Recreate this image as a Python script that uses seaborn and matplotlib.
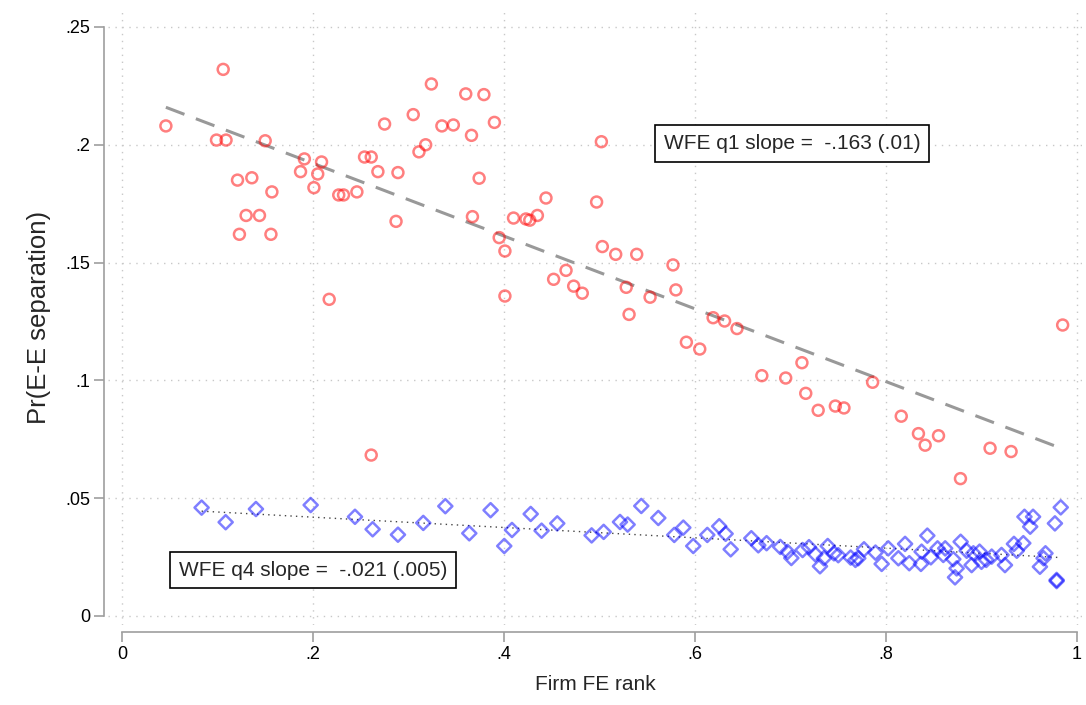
import numpy as np
import pandas as pd
import matplotlib
matplotlib.use("Agg")
import matplotlib.pyplot as plt
import seaborn as sns

# --- values ---
q1_rank = [0.046, 0.099, 0.106, 0.109, 0.121, 0.123, 0.130, 0.136, 0.144, 0.150,
           0.156, 0.157, 0.187, 0.191, 0.201, 0.205, 0.209, 0.217, 0.227, 0.232,
           0.246, 0.254, 0.261, 0.261, 0.268, 0.275, 0.287, 0.289, 0.305, 0.311,
           0.318, 0.324, 0.335, 0.347, 0.360, 0.366, 0.367, 0.374, 0.379, 0.390,
           0.395, 0.401, 0.401, 0.410, 0.423, 0.427, 0.435, 0.444, 0.452, 0.465,
           0.473, 0.482, 0.497, 0.502, 0.503, 0.517, 0.528, 0.531, 0.539, 0.553,
           0.577, 0.580, 0.591, 0.605, 0.619, 0.631, 0.644, 0.670, 0.695, 0.712,
           0.716, 0.729, 0.747, 0.756, 0.786, 0.816, 0.834, 0.841, 0.855, 0.878,
           0.909, 0.931, 0.985]
q1_sep = [0.2080, 0.2020, 0.2320, 0.2020, 0.1850, 0.1620, 0.1700, 0.1860, 0.1700, 0.2017,
          0.1620, 0.1800, 0.1886, 0.1940, 0.1818, 0.1876, 0.1927, 0.1344, 0.1787, 0.1787,
          0.1800, 0.1948, 0.1948, 0.0683, 0.1886, 0.2088, 0.1675, 0.1882, 0.2128, 0.1970,
          0.2000, 0.2258, 0.2080, 0.2084, 0.2216, 0.2040, 0.1695, 0.1858, 0.2213, 0.2095,
          0.1606, 0.1549, 0.1358, 0.1689, 0.1685, 0.1680, 0.1700, 0.1774, 0.1429, 0.1467,
          0.1400, 0.1370, 0.1757, 0.2013, 0.1568, 0.1535, 0.1395, 0.1280, 0.1535, 0.1353,
          0.1490, 0.1384, 0.1162, 0.1133, 0.1266, 0.1252, 0.1220, 0.1020, 0.1010, 0.1075,
          0.0945, 0.0873, 0.0891, 0.0883, 0.0992, 0.0848, 0.0774, 0.0725, 0.0765, 0.0583,
          0.0712, 0.0698, 0.1235]

q4_rank = [0.0834, 0.1086, 0.1403, 0.1976, 0.2440, 0.2625, 0.2890, 0.3155, 0.3386, 0.3637,
           0.3860, 0.4003, 0.4084, 0.4280, 0.4394, 0.4558, 0.4918, 0.5044, 0.5215, 0.5295,
           0.5438, 0.5616, 0.5783, 0.5878, 0.5982, 0.6129, 0.6254, 0.6321, 0.6374, 0.6590,
           0.6663, 0.6750, 0.6893, 0.6970, 0.7009, 0.7127, 0.7194, 0.7260, 0.7309, 0.7350,
           0.7390, 0.7455, 0.7500, 0.7630, 0.7680, 0.7710, 0.7770, 0.7890, 0.7955, 0.8024,
           0.8130, 0.8200, 0.8244, 0.8366, 0.8373, 0.8433, 0.8470, 0.8540, 0.8600, 0.8620,
           0.8705, 0.8740, 0.8723, 0.8782, 0.8845, 0.8897, 0.8915, 0.8980, 0.9000, 0.9050,
           0.9107, 0.9210, 0.9246, 0.9340, 0.9370, 0.9438, 0.9450, 0.9540, 0.9510, 0.9612,
           0.9650, 0.9670, 0.9769, 0.9787, 0.9787, 0.9830]
q4_sep = [0.0460, 0.0398, 0.0454, 0.0471, 0.0421, 0.0368, 0.0345, 0.0395, 0.0466, 0.0351,
          0.0449, 0.0297, 0.0365, 0.0433, 0.0362, 0.0393, 0.0342, 0.0357, 0.0399, 0.0388,
          0.0467, 0.0416, 0.0344, 0.0375, 0.0297, 0.0344, 0.0381, 0.0349, 0.0283, 0.0330,
          0.0300, 0.0309, 0.0293, 0.0272, 0.0246, 0.0280, 0.0292, 0.0262, 0.0211, 0.0245,
          0.0297, 0.0266, 0.0258, 0.0248, 0.0238, 0.0245, 0.0283, 0.0269, 0.0221, 0.0287,
          0.0245, 0.0306, 0.0224, 0.0221, 0.0273, 0.0341, 0.0249, 0.0287, 0.0259, 0.0287,
          0.0241, 0.0202, 0.0164, 0.0315, 0.0277, 0.0216, 0.0266, 0.0273, 0.0230, 0.0238,
          0.0252, 0.0259, 0.0216, 0.0306, 0.0277, 0.0309, 0.0421, 0.0421, 0.0379, 0.0209,
          0.0245, 0.0266, 0.0393, 0.0153, 0.0148, 0.0461]

x_ticks = [0, 0.2, 0.4, 0.6, 0.8, 1]
x_tick_labels = ["0", ".2", ".4", ".6", ".8", "1"]
y_ticks = [0, 0.05, 0.1, 0.15, 0.2, 0.25]
y_tick_labels = ["0", ".05", ".1", ".15", ".2", ".25"]

q1_note = "WFE q1 slope =  -.163 (.01)"
q4_note = "WFE q4 slope =  -.021 (.005)"

df_q1 = pd.DataFrame({"rank": q1_rank, "sep": q1_sep})
df_q4 = pd.DataFrame({"rank": q4_rank, "sep": q4_sep})

sns.set_theme(style="white")
plt.rcParams["font.family"] = ["Liberation Sans", "DejaVu Sans"]

fig = plt.figure(figsize=(10.86, 7.05), dpi=100)
ax = fig.add_axes([0.0994, 0.1135, 0.8969, 0.8723])

# grid first so it sits under the markers
for xv in x_ticks:
    ax.axvline(xv, color="#c8c8c8", lw=1.0, ls=(0, (1, 4)), zorder=0)
for yv in y_ticks:
    ax.axhline(yv, color="#c8c8c8", lw=1.0, ls=(0, (1, 4)), zorder=0)

# scatter: hollow red circles / hollow blue diamonds
sns.scatterplot(data=df_q1, x="rank", y="sep", ax=ax, marker="o", s=62,
                color="red", facecolor="none", edgecolor="red",
                linewidth=1.8, alpha=0.5, zorder=3)
sns.scatterplot(data=df_q4, x="rank", y="sep", ax=ax, marker="D", s=52,
                color="blue", facecolor="none", edgecolor="blue",
                linewidth=1.8, alpha=0.5, zorder=3)

# fitted lines
sns.regplot(data=df_q1, x="rank", y="sep", ax=ax, scatter=False, ci=None,
            line_kws=dict(color="#999999", lw=2.2, ls=(0, (6.5, 4)), zorder=2))
sns.regplot(data=df_q4, x="rank", y="sep", ax=ax, scatter=False, ci=None,
            line_kws=dict(color="#444444", lw=1.0, ls=(0, (1, 3)), zorder=2))

# slope notes
box = dict(boxstyle="square,pad=0.42", fc="white", ec="black", lw=1.2)
ax.text(0.7016, 0.2006, q1_note, ha="center", va="center", fontsize=15,
        bbox=box, zorder=5)
ax.text(0.2, 0.0195, q4_note, ha="center", va="center", fontsize=15,
        bbox=box, zorder=5)

ax.set_xlim(-0.01466, 1.00524)
ax.set_ylim(-0.00382, 0.2572)
ax.set_xticks(x_ticks)
ax.set_xticklabels(x_tick_labels)
ax.set_yticks(y_ticks)
ax.set_yticklabels(y_tick_labels)
ax.tick_params(axis="both", labelsize=13, colors="#9e9e9e", labelcolor="black",
               length=7, width=1.2, direction="out", pad=3)
ax.tick_params(axis="x", bottom=True)
ax.tick_params(axis="y", left=True)

for side in ["top", "right"]:
    ax.spines[side].set_visible(False)
ax.spines["left"].set_position(("outward", 3))
ax.spines["bottom"].set_position(("outward", 5))
ax.spines["left"].set_bounds(0, 0.25)
ax.spines["bottom"].set_bounds(0, 1)
for side in ["left", "bottom"]:
    ax.spines[side].set_color("#9e9e9e")
    ax.spines[side].set_linewidth(1.2)

ax.set_xlabel("Firm FE rank", fontsize=15, labelpad=9)
ax.set_ylabel("Pr(E-E separation)", fontsize=18.5, labelpad=10)

fig.savefig("out.png", dpi=100, facecolor="white")
